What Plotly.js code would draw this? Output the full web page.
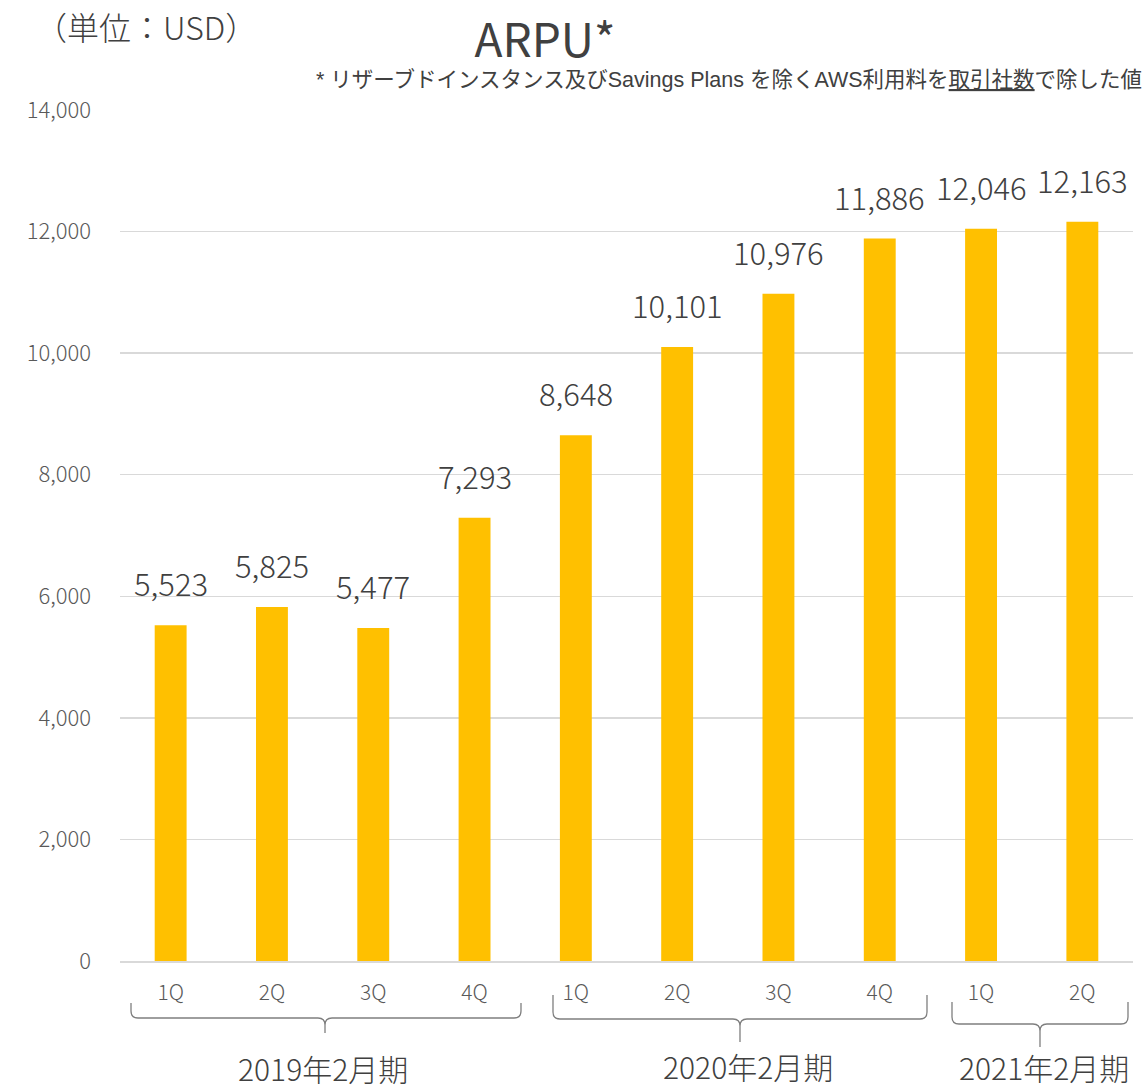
<!DOCTYPE html>
<html>
<head>
<meta charset="utf-8">
<script src="https://cdn.plot.ly/plotly-3.0.1.min.js"></script>
<style>html,body{margin:0;padding:0;background:#fff;}</style>
</head>
<body>
<div id="chart" style="width:1148px;height:1090px;"></div>
<script>
// ---- data ----
const quarters = ["1Q","2Q","3Q","4Q","1Q","2Q","3Q","4Q","1Q","2Q"];
const arpu = [5523, 5825, 5477, 7293, 8648, 10101, 10976, 11886, 12046, 12163];
const groupLabels = ["2019年2月期", "2020年2月期", "2021年2月期"];
const groupStart = [0, 4, 8];
const groupEnd = [3, 7, 9];

// ---- layout helpers ----
const W = 1148, H = 1090;
const M = {l:120, r:15, t:110, b:129};
const PW = W - M.l - M.r, PH = H - M.t - M.b;
const px = x => (x - M.l) / PW;
const py = y => (M.t + PH - y) / PH;

const idx = quarters.map((_, i) => i);
const textColor = "#404040";
const tickColor = "#595959";
const jp = "Noto Sans CJK JP";

// brace geometry (pixels): left, right, top, horizontal, tip x, tip bottom
const braces = [
  {l:131, r:521, top:1003, h:1018, tx:325, tb:1033},
  {l:553, r:927, top:995, h:1019, tx:740, tb:1042},
  {l:952, r:1128, top:1002, h:1024, tx:1040, tb:1047}
];
const labelY = [1068, 1066, 1067];
const labelX = [323, 748, 1044];

const shapes = braces.map(b => {
  const r = 7;
  const P = (x, y) => px(x).toFixed(5) + "," + py(y).toFixed(5);
  const d = "M" + P(b.l, b.top) +
    " L" + P(b.l, b.h - r) +
    " Q" + P(b.l, b.h) + " " + P(b.l + r, b.h) +
    " L" + P(b.tx - r, b.h) +
    " Q" + P(b.tx, b.h) + " " + P(b.tx, b.h + r) +
    " L" + P(b.tx, b.tb) +
    " M" + P(b.tx, b.h + r) +
    " Q" + P(b.tx, b.h) + " " + P(b.tx + r, b.h) +
    " L" + P(b.r - r, b.h) +
    " Q" + P(b.r, b.h) + " " + P(b.r, b.h - r) +
    " L" + P(b.r, b.top);
  return {type:"path", xref:"paper", yref:"paper", path:d,
          line:{color:"#7f7f7f", width:1.3}, layer:"above"};
});

const annotations = [];
// value labels
arpu.forEach((v, i) => {
  annotations.push({x:i, y:v, xref:"x", yref:"y", text:v.toLocaleString("en-US"),
    showarrow:false, yanchor:"bottom", yshift:18,
    font:{family:jp, size:31, weight:300, color:textColor}});
});
// group labels
groupLabels.forEach((g, k) => {
  annotations.push({x:px(labelX[k]), y:py(labelY[k]), xref:"paper", yref:"paper",
    text:g, showarrow:false, xanchor:"center", yanchor:"middle",
    font:{family:jp, size:30, weight:300, color:textColor}});
});
// unit
annotations.push({x:px(33), y:py(26), xref:"paper", yref:"paper", text:"（単位：USD）",
  showarrow:false, xanchor:"left", yanchor:"middle",
  font:{family:jp, size:32, weight:300, color:textColor}});
// footnote
annotations.push({x:px(1144), y:py(80), xref:"paper", yref:"paper",
  text:"* リザーブドインスタンス及びSavings Plans を除くAWS利用料を<u>取引社数</u>で除した値",
  showarrow:false, xanchor:"right", yanchor:"middle",
  font:{family:"Liberation Sans, " + jp, size:21.5, color:textColor}});

const trace = {
  type:"bar", x:idx, y:arpu,
  marker:{color:"#FFC000"},
  width:0.315,
  hoverinfo:"none"
};

const layout = {
  width:W, height:H,
  margin:M,
  paper_bgcolor:"#fff", plot_bgcolor:"#fff",
  showlegend:false,
  title:{text:"ARPU*", xref:"container", yref:"container", x:545 / W, xanchor:"center",
    y:1 - 41 / H, yanchor:"middle",
    font:{family:jp, size:46, weight:400, color:textColor}},
  xaxis:{range:[-0.5, 9.5], tickmode:"array", tickvals:idx, ticktext:quarters,
    showgrid:false, zeroline:false, showline:true, linecolor:"#d9d9d9", linewidth:1.5,
    ticks:"", ticklabelstandoff:12,
    tickfont:{family:jp, size:21, weight:300, color:tickColor}, fixedrange:true},
  yaxis:{range:[0, 14000], dtick:2000, tickformat:",", showgrid:true, gridcolor:"#d9d9d9",
    gridwidth:1.3, zeroline:false, showline:false, ticks:"", ticklabelstandoff:28,
    tickfont:{family:jp, size:22, weight:300, color:tickColor}, fixedrange:true},
  shapes:shapes,
  annotations:annotations
};

Plotly.newPlot("chart", [trace], layout, {displayModeBar:false, staticPlot:true});
</script>
</body>
</html>
